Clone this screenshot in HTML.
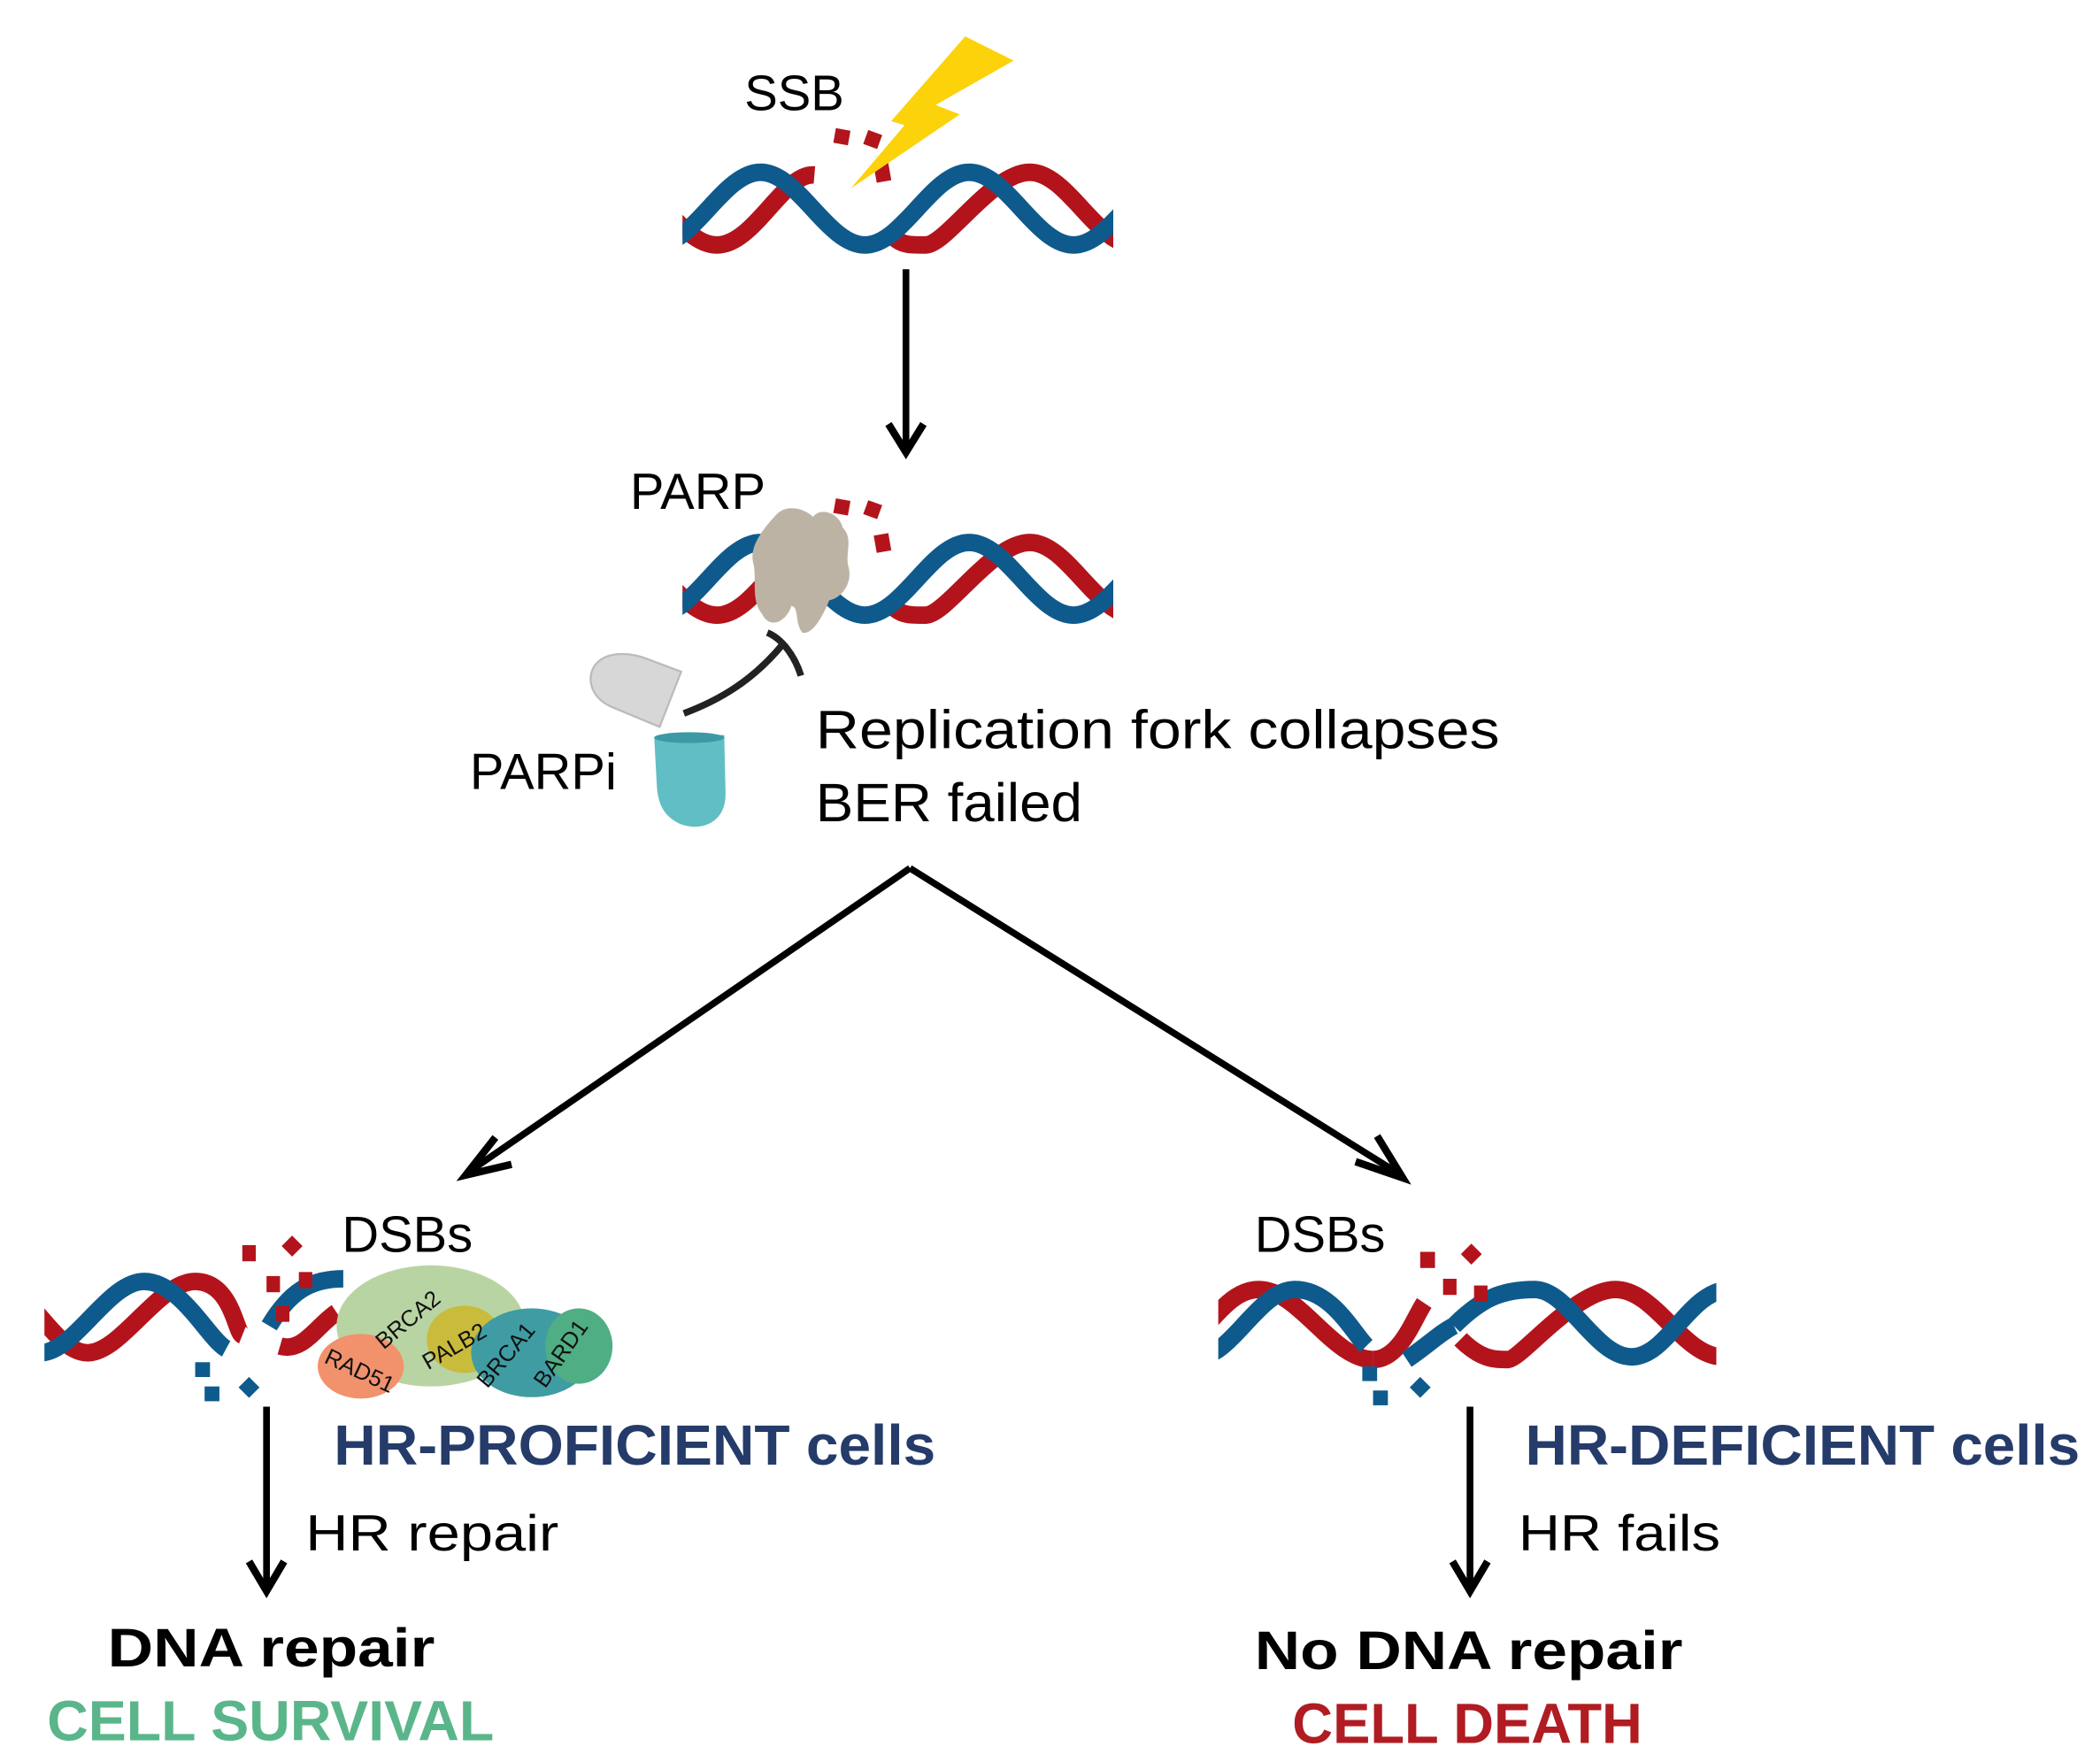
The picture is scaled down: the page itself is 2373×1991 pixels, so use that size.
<!DOCTYPE html>
<html><head><meta charset="utf-8"><style>
html,body{margin:0;padding:0;background:#fff;}
svg{display:block;}
text{font-family:"Liberation Sans",sans-serif;}
</style></head><body>
<svg width="2373" height="1991" viewBox="0 0 1560 1309" preserveAspectRatio="none" xmlns="http://www.w3.org/2000/svg">
<defs>
<clipPath id="c1"><rect x="507" y="0" width="320" height="1309"/></clipPath>
<clipPath id="cl"><rect x="33" y="0" width="240" height="1309"/></clipPath>
<clipPath id="cr"><rect x="905" y="0" width="370" height="1309"/></clipPath>
</defs>

<!-- TOP DNA -->
<g clip-path="url(#c1)" fill="none" stroke-width="13">
 <path d="M455,128 C482.9,128 504.6,182 532.5,182 S582.1,128 605,130" stroke="#b3141c"/>
 <path d="M658,170 C668,182 672,182 687.5,182 S737.1,128 765,128 S814.6,182 842.5,182" stroke="#b3141c"/>
 <path d="M410,128 C437.9,128 459.6,182 487.5,182 S537.1,128 565,128 S614.6,182 642.5,182 S692.1,128 720,128 S769.6,182 797.5,182 S847.1,128 875,128" stroke="#0f5a8c"/>
</g>
<g fill="#b3141c">
 <rect x="620" y="96" width="11" height="11" transform="rotate(10 625 101)"/>
 <rect x="643" y="98" width="11" height="11" transform="rotate(20 648 103)"/>
 <rect x="650" y="122" width="11" height="13" transform="rotate(-10 655 128)"/>
</g>
<polygon points="717,27 753,45 695,78 713,85 632,140 672,93 662,90" fill="#fcd20a"/>
<text x="553" y="82" font-size="37">SSB</text>

<line x1="673" y1="200" x2="673" y2="335" stroke="#000" stroke-width="5"/>
<path d="M660,315 L673,336 L686,315" fill="none" stroke="#000" stroke-width="5.5"/>

<!-- MIDDLE DNA -->
<g clip-path="url(#c1)" fill="none" stroke-width="13">
 <path d="M455,403 C482.9,403 504.6,457 532.5,457 S582.1,403 605,405" stroke="#b3141c"/>
 <path d="M658,445 C668,457 672,457 687.5,457 S737.1,403 765,403 S814.6,457 842.5,457" stroke="#b3141c"/>
 <path d="M410,403 C437.9,403 459.6,457 487.5,457 S537.1,403 565,403 S614.6,457 642.5,457 S692.1,403 720,403 S769.6,457 797.5,457 S847.1,403 875,403" stroke="#0f5a8c"/>
</g>
<g fill="#b3141c">
 <rect x="620" y="371" width="11" height="11" transform="rotate(10 625 376)"/>
 <rect x="643" y="373" width="11" height="11" transform="rotate(20 648 378)"/>
 <rect x="650" y="397" width="11" height="13" transform="rotate(-10 655 403)"/>
</g>
<path d="M577,382 C585,374 598,378 604,384 C610,376 624,382 626,392 C634,400 628,410 630,420 C634,432 626,444 616,446 C612,456 604,472 596,470 C590,462 594,452 588,450 C584,462 572,468 566,456 C558,446 562,432 560,420 C556,408 564,396 577,382 Z" fill="#bdb3a4"/>
<text x="468" y="378" font-size="38">PARP</text>

<!-- PARPi -->
<path d="M443,493 C452,483 470,485 482,490 L506,499 L490,540 L454,525 C438,518 435,502 443,493 Z" fill="#d7d7d7" stroke="#bbb" stroke-width="1.5"/>
<path d="M486,548 L538,546 L539,590 C539,612 520,618 505,612 C492,606 489,596 488,585 Z" fill="#62bec5"/>
<ellipse cx="512" cy="548" rx="26" ry="4" fill="#3b9aa3"/>
<path d="M508,530 C535,520 560,505 582,478" fill="none" stroke="#222" stroke-width="5"/>
<path d="M570,470 C580,474 590,486 595,502" fill="none" stroke="#222" stroke-width="5"/>
<text x="349" y="586" font-size="38">PARPi</text>

<text x="606" y="556" font-size="40" textLength="508" lengthAdjust="spacingAndGlyphs">Replication fork collapses</text>
<text x="606" y="610" font-size="40" textLength="198" lengthAdjust="spacingAndGlyphs">BER failed</text>

<!-- branches -->
<line x1="676" y1="645" x2="352" y2="868" stroke="#000" stroke-width="5"/>
<path d="M368,845 L346,873 L380,865" fill="none" stroke="#000" stroke-width="5.5"/>
<line x1="676" y1="645" x2="1036" y2="870" stroke="#000" stroke-width="5"/>
<path d="M1007,863 L1042,875 L1023,844" fill="none" stroke="#000" stroke-width="5.5"/>

<!-- LEFT DNA -->
<g clip-path="url(#cl)" fill="none" stroke-width="13">
 <path d="M-5,952 C20,952 40,1005 65,1005 S118,952 145,952 S175,990 180,992" stroke="#b3141c"/>
 <path d="M208,1000 C225,1005 235,985 250,975" stroke="#b3141c"/>
 <path d="M30,1005 C55,1005 80,952 107,952 S155,995 168,1002" stroke="#0f5a8c"/>
 <path d="M200,985 C215,960 230,950 255,950" stroke="#0f5a8c"/>
</g>
<g fill="#b3141c">
 <rect x="180" y="925" width="10" height="12"/><rect x="212" y="920" width="11" height="11" transform="rotate(45 217 925)"/>
 <rect x="198" y="948" width="10" height="12"/><rect x="222" y="945" width="10" height="12"/><rect x="205" y="970" width="10" height="12"/>
</g>
<g fill="#0f5a8c">
 <rect x="145" y="1012" width="11" height="11"/><rect x="152" y="1030" width="11" height="11"/><rect x="180" y="1025" width="11" height="11" transform="rotate(45 185 1030)"/>
</g>
<ellipse cx="320" cy="985" rx="70" ry="45" fill="#b9d4a3"/>
<ellipse cx="268" cy="1015" rx="32" ry="24" fill="#f1926c"/>
<ellipse cx="345" cy="995" rx="28" ry="25" fill="#c9bb3c"/>
<ellipse cx="395" cy="1005" rx="45" ry="33" fill="#3f9ca3"/>
<ellipse cx="430" cy="1000" rx="25" ry="28" fill="#4fae84"/>
<g font-size="17" fill="#111">
 <text x="285" y="1003" transform="rotate(-40 285 1003)">BRCA2</text>
 <text x="240" y="1012" transform="rotate(25 240 1012)">RAD51</text>
 <text x="318" y="1018" transform="rotate(-30 318 1018)">PALB2</text>
 <text x="362" y="1032" transform="rotate(-50 362 1032)">BRCA1</text>
 <text x="405" y="1032" transform="rotate(-55 405 1032)">BARD1</text>
</g>
<text x="254" y="930" font-size="38">DSBs</text>

<line x1="198" y1="1045" x2="198" y2="1182" stroke="#000" stroke-width="5"/>
<path d="M185,1160 L198,1182 L211,1160" fill="none" stroke="#000" stroke-width="5.5"/>
<text x="248" y="1088" font-size="42" font-weight="bold" fill="#253b69" textLength="447" lengthAdjust="spacingAndGlyphs">HR-PROFICIENT cells</text>
<text x="227" y="1152" font-size="38" textLength="188" lengthAdjust="spacingAndGlyphs">HR repair</text>
<text x="80" y="1238" font-size="40" font-weight="bold" textLength="243" lengthAdjust="spacingAndGlyphs">DNA repair</text>
<text x="35" y="1293" font-size="42" font-weight="bold" fill="#5ab68a" textLength="332" lengthAdjust="spacingAndGlyphs">CELL SURVIVAL</text>

<!-- RIGHT DNA -->
<g clip-path="url(#cr)" fill="none" stroke-width="13">
 <path d="M860,1008 C890,1008 905,958 935,958 S990,1010 1020,1010" stroke="#b3141c"/>
 <path d="M1020,1010 C1040,1010 1050,980 1058,968" stroke="#b3141c"/>
 <path d="M1085,995 C1100,1010 1110,1010 1120,1010 S1170,958 1200,958 S1250,1008 1280,1008" stroke="#b3141c"/>
 <path d="M890,1008 C915,1008 935,958 962,958 S1005,990 1015,1000" stroke="#0f5a8c"/>
 <path d="M1045,1010 C1060,1000 1070,990 1080,985" stroke="#0f5a8c"/>
 <path d="M1080,985 C1100,965 1115,958 1140,958 S1185,1008 1212,1008 S1255,958 1285,958" stroke="#0f5a8c"/>
</g>
<g fill="#b3141c">
 <rect x="1055" y="930" width="11" height="12"/><rect x="1088" y="926" width="11" height="11" transform="rotate(45 1093 931)"/>
 <rect x="1072" y="950" width="10" height="12"/><rect x="1095" y="955" width="10" height="12"/>
</g>
<g fill="#0f5a8c">
 <rect x="1012" y="1015" width="11" height="11"/><rect x="1020" y="1033" width="11" height="11"/><rect x="1050" y="1025" width="11" height="11" transform="rotate(45 1055 1030)"/>
</g>
<text x="932" y="930" font-size="38">DSBs</text>

<line x1="1092" y1="1045" x2="1092" y2="1182" stroke="#000" stroke-width="5"/>
<path d="M1079,1160 L1092,1182 L1105,1160" fill="none" stroke="#000" stroke-width="5.5"/>
<text x="1133" y="1088" font-size="42" font-weight="bold" fill="#253b69" textLength="412" lengthAdjust="spacingAndGlyphs">HR-DEFICIENT cells</text>
<text x="1128" y="1152" font-size="38" textLength="150" lengthAdjust="spacingAndGlyphs">HR fails</text>
<text x="932" y="1240" font-size="40" font-weight="bold" textLength="318" lengthAdjust="spacingAndGlyphs">No DNA repair</text>
<text x="960" y="1295" font-size="42" font-weight="bold" fill="#b01c22" textLength="260" lengthAdjust="spacingAndGlyphs">CELL DEATH</text>
</svg>
</body></html>
